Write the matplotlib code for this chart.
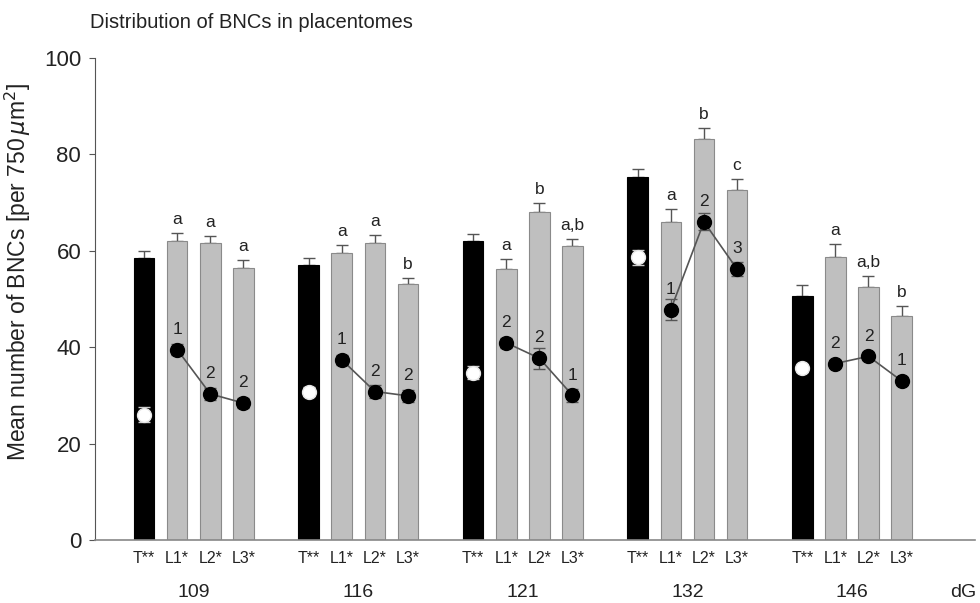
import numpy as np
import matplotlib
matplotlib.use("Agg")
import matplotlib.pyplot as plt

plt.rcParams["font.family"] = ["Liberation Sans", "DejaVu Sans"]

# ── data ────────────────────────────────────────────────────────────────────
days = ["109", "116", "121", "132", "146"]
bar_labels = ["T**", "L1*", "L2*", "L3*"]

# bar means (T, L1, L2, L3) per day and their SEM
bar_mean = [
    [58.5, 62.0, 61.5, 56.5],
    [57.0, 59.5, 61.5, 53.0],
    [62.0, 56.3, 68.0, 61.0],
    [75.2, 66.0, 83.2, 72.5],
    [50.6, 58.8, 52.5, 46.4],
]
bar_err = [
    [1.5, 1.6, 1.5, 1.6],
    [1.4, 1.6, 1.7, 1.3],
    [1.4, 2.0, 1.8, 1.5],
    [1.8, 2.6, 2.2, 2.4],
    [2.2, 2.6, 2.2, 2.1],
]
# dot means (T dot is white, L dots are black and connected)
dot_mean = [
    [26.0, 39.5, 30.3, 28.4],
    [30.8, 37.4, 30.8, 29.9],
    [34.7, 40.9, 37.7, 30.0],
    [58.6, 47.8, 66.0, 56.2],
    [35.6, 36.6, 38.1, 33.0],
]
dot_err = [
    [1.6, 1.2, 1.2, 1.0],
    [1.0, 1.0, 1.4, 1.2],
    [1.4, 1.0, 2.2, 1.4],
    [1.6, 2.2, 1.8, 1.5],
    [0.8, 0.8, 0.8, 0.8],
]
letters = [
    ["a", "a", "a"],
    ["a", "a", "b"],
    ["a", "b", "a,b"],
    ["a", "b", "c"],
    ["a", "a,b", "b"],
]
ranks = [
    ["1", "2", "2"],
    ["1", "2", "2"],
    ["2", "2", "1"],
    ["1", "2", "3"],
    ["2", "2", "1"],
]

group_gap = 4.97
width = 0.62
grey = "#bfbfbf"
edge = "#8a8a8a"
line_col = "#555555"
txt = "#222222"

fig = plt.figure(figsize=(9.8, 6.03), dpi=100)
ax = fig.add_axes([0.097, 0.1045, 0.898, 0.7995])

for g, day in enumerate(days):
    xs = g * group_gap + np.arange(4)
    colors = ["black"] + [grey] * 3
    ax.bar(xs, bar_mean[g], width=width, color=colors, edgecolor=["black"] + [edge] * 3,
           linewidth=0.8, zorder=2)
    ax.errorbar(xs, bar_mean[g], yerr=[np.zeros(4), bar_err[g]], fmt="none",
                ecolor=line_col, elinewidth=1.0, capsize=4, capthick=1.0, zorder=1)

    # white dot on the T bar
    ax.errorbar(xs[0], dot_mean[g][0], yerr=dot_err[g][0], fmt="o", ms=10,
                mfc="white", mec="#e6e6e6", ecolor="#cccccc", elinewidth=1.0,
                capsize=4, zorder=4)
    # connected black dots on L bars
    ax.plot(xs[1:], dot_mean[g][1:], color=line_col, lw=1.2, zorder=3)
    ax.errorbar(xs[1:], dot_mean[g][1:], yerr=dot_err[g][1:], fmt="o", ms=10,
                mfc="black", mec="black", ecolor=line_col, elinewidth=1.0,
                capsize=4, zorder=4)

    for i in range(3):
        top = bar_mean[g][i + 1] + bar_err[g][i + 1]
        ax.text(xs[i + 1], top + 2.8, letters[g][i], ha="center", va="center",
                fontsize=12.5, color=txt)
        ax.text(xs[i + 1], dot_mean[g][i + 1] + 4.2, ranks[g][i], ha="center",
                va="center", fontsize=12.5, color=txt)

    for i, lab in enumerate(bar_labels):
        ax.text(xs[i], -3.8, lab, ha="center", va="center", fontsize=11.5,
                color=txt)
    ax.text(xs[0] + 1.5, -10.9, day, ha="center", va="center", fontsize=14,
            color=txt)

ax.text(24.75, -10.9, "dG", ha="center", va="center", fontsize=14, color=txt)

ax.set_xlim(-1.48, 25.1)
ax.set_ylim(0, 100)
ax.set_yticks([0, 20, 40, 60, 80, 100])
ax.tick_params(axis="y", labelsize=16, direction="out", length=4, width=0.8,
               pad=6, colors="#555555", labelcolor=txt)
ax.set_xticks([])
for s in ["top", "right"]:
    ax.spines[s].set_visible(False)
ax.spines["left"].set_color("#555555")
ax.spines["bottom"].set_color("#888888")
ax.spines["bottom"].set_linewidth(1.2)

ax.set_ylabel(r"Mean number of BNCs [per 750$\,\mu$m$^2$]", fontsize=16.5,
              color=txt)
ax.yaxis.set_label_coords(-0.071, 0.556)
fig.text(0.092, 0.963, "Distribution of BNCs in placentomes", fontsize=14.5,
         color=txt, va="center")

fig.savefig("out.png", dpi=100)
